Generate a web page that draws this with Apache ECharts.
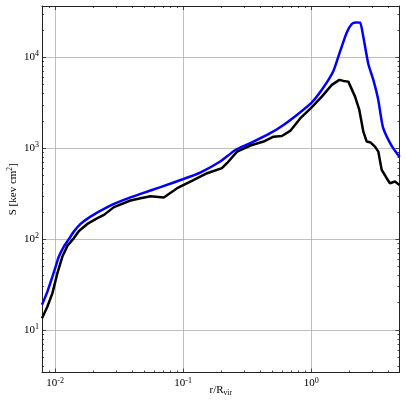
<!DOCTYPE html>
<html>
<head>
<meta charset="utf-8">
<script src="https://cdn.jsdelivr.net/npm/echarts@6/dist/echarts.min.js"></script>
<style>
html,body{margin:0;padding:0;background:#fff;}
#chart{width:407px;height:407px;}
</style>
</head>
<body>
<div id="chart"></div>
<script>
// Axis ranges
const X_MIN = 0.0079, X_MAX = 4.9;
const Y_MIN = 3.42, Y_MAX = 36600;
// Tick values
const X_MAJOR = [0.01, 0.1, 1];
const X_MINOR = [0.008, 0.009, 0.02, 0.03, 0.04, 0.05, 0.06, 0.07, 0.08, 0.09,
                 0.2, 0.3, 0.4, 0.5, 0.6, 0.7, 0.8, 0.9, 2, 3, 4];
const Y_MAJOR = [10, 100, 1000, 10000];
const Y_MINOR = [4, 5, 6, 7, 8, 9, 20, 30, 40, 50, 60, 70, 80, 90,
                 200, 300, 400, 500, 600, 700, 800, 900,
                 2000, 3000, 4000, 5000, 6000, 7000, 8000, 9000, 20000, 30000];

// Blue profile
const radiusBlue = [0.0079, 0.00871, 0.00953, 0.0101, 0.0107, 0.0117, 0.0128, 0.0140, 0.0158, 0.0189,
  0.0256, 0.0344, 0.0465, 0.0665, 0.0993, 0.136, 0.195, 0.256, 0.335, 0.479, 0.608, 0.774, 1.0,
  1.247, 1.492, 1.683, 1.898, 2.076, 2.243, 2.409, 2.556, 2.796, 3.060, 3.346, 3.641, 4.256, 4.9];
const entropyBlue = [19.0, 26.5, 38.8, 50.0, 64.4, 83.0, 100, 121, 147, 177,
  225, 270, 315, 373, 456, 540, 713, 957, 1135, 1462, 1803, 2322, 3126,
  4650, 7060, 11590, 18750, 23200, 24100, 23990, 16830, 8440, 5640, 3397, 1694, 1059, 802];

// Black profile
const radiusBlack = [0.0079, 0.00871, 0.00953, 0.01042, 0.0114, 0.01247, 0.0138, 0.01535, 0.01786, 0.0214,
  0.0241, 0.0288, 0.0388, 0.0465, 0.0556, 0.0706, 0.0898, 0.114, 0.154, 0.201, 0.220, 0.264, 0.335,
  0.425, 0.508, 0.591, 0.686, 0.821, 1.0, 1.212, 1.45, 1.662, 1.786, 1.953, 2.014, 2.203, 2.379,
  2.556, 2.717, 2.920, 3.153, 3.346, 3.557, 3.890, 4.128, 4.515, 4.9];
const entropyBlack = [13.5, 18.2, 25.5, 42.3, 64.4, 84.4, 100, 123, 147, 170,
  185, 225, 266, 282, 297, 287, 363, 430, 531, 603, 684, 918, 1069,
  1183, 1340, 1364, 1549, 2123, 2773, 3690, 4965, 5640, 5495, 5395, 5180, 3690, 2637,
  1521, 1183, 1154, 1042, 918, 578, 468, 412, 430, 395];

const FONT = 'Liberation Serif';
const zip = (xs, ys) => xs.map((x, i) => [x, ys[i]]);

function powLabel(v) {
  const e = Math.log10(v);
  const r = Math.round(e);
  if (Math.abs(e - r) > 1e-6) return '';
  return '{b|10}{s|' + r + '}';
}
const labelRich = {
  b: {fontFamily: FONT, fontSize: 11, color: '#000', lineHeight: 14},
  s: {fontFamily: FONT, fontSize: 8, color: '#000', verticalAlign: 'top', lineHeight: 8}
};
const lineCol = '#222';

function xAxisDef(pos, major) {
  const isMain = pos === 'bottom' && major;
  return {
    type: 'log', logBase: 10, min: X_MIN, max: X_MAX, position: pos,
    axisLine: {show: major, onZero: false, lineStyle: {color: lineCol, width: 1}},
    axisTick: {show: true, inside: true, length: major ? 4 : 2,
               customValues: major ? X_MAJOR : X_MINOR, lineStyle: {color: lineCol, width: 0.8}},
    minorTick: {show: false},
    axisLabel: isMain ? {show: true, customValues: X_MAJOR, formatter: powLabel, rich: labelRich,
               margin: 4} : {show: false},
    splitLine: {show: isMain, lineStyle: {color: '#b0b0b0', width: 0.8}},
    name: isMain ? '{a|r/R}{u|vir}' : '',
    nameLocation: 'middle', nameGap: 11, nameMoveOverlap: false,
    nameTextStyle: {rich: {
      a: {fontFamily: FONT, fontSize: 11, color: '#000', lineHeight: 14},
      u: {fontFamily: FONT, fontSize: 7.5, color: '#000', verticalAlign: 'bottom', lineHeight: 8}
    }}
  };
}
function yAxisDef(pos, major) {
  const isMain = pos === 'left' && major;
  return {
    type: 'log', logBase: 10, min: Y_MIN, max: Y_MAX, position: pos,
    axisLine: {show: major, onZero: false, lineStyle: {color: lineCol, width: 1}},
    axisTick: {show: true, inside: true, length: major ? 4 : 2,
               customValues: major ? Y_MAJOR : Y_MINOR, lineStyle: {color: lineCol, width: 0.8}},
    minorTick: {show: false},
    axisLabel: isMain ? {show: true, customValues: Y_MAJOR, formatter: powLabel, rich: labelRich,
               margin: 3} : {show: false},
    splitLine: {show: isMain, lineStyle: {color: '#b0b0b0', width: 0.8}},
    name: isMain ? '{a|S [kev cm}{p|2}{a|]}' : '',
    nameLocation: 'middle', nameGap: 22, nameRotate: 90, nameMoveOverlap: false,
    nameTextStyle: {rich: {
      a: {fontFamily: FONT, fontSize: 11, color: '#000', lineHeight: 14},
      p: {fontFamily: FONT, fontSize: 7.5, color: '#000', verticalAlign: 'top', lineHeight: 8}
    }}
  };
}

const chart = echarts.init(document.getElementById('chart'), null, {renderer: 'canvas'});
chart.setOption({
  animation: false,
  backgroundColor: '#fff',
  grid: {left: 42, right: 7.5, top: 6, bottom: 34.5, containLabel: false, outerBoundsMode: 'none'},
  xAxis: [xAxisDef('bottom', true), xAxisDef('bottom', false), xAxisDef('top', true), xAxisDef('top', false)],
  yAxis: [yAxisDef('left', true), yAxisDef('left', false), yAxisDef('right', true), yAxisDef('right', false)],
  series: [
    {type: 'line', name: 'blue', data: zip(radiusBlue, entropyBlue), xAxisIndex: 0, yAxisIndex: 0,
     showSymbol: false, smooth: 0.2, lineStyle: {color: '#0000ff', width: 2.5}, z: 3},
    {type: 'line', name: 'black', data: zip(radiusBlack, entropyBlack), xAxisIndex: 0, yAxisIndex: 0,
     showSymbol: false, smooth: false, lineStyle: {color: '#000000', width: 2.5}, z: 4}
  ]
});
</script>
</body>
</html>
